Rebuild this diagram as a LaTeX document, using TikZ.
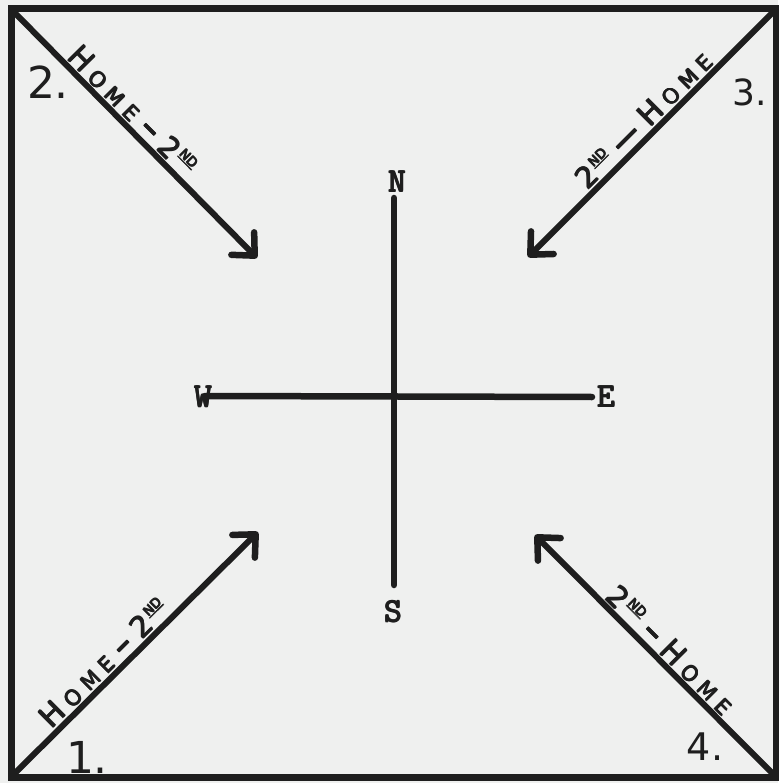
\documentclass[tikz,border=0pt]{standalone}
\usepackage{fontspec}
\setmainfont{DejaVu Sans}
\usetikzlibrary{arrows.meta}
\definecolor{ink}{RGB}{30,30,30}
\definecolor{paper}{RGB}{239,240,239}
% overprint a text a few times with a small offset to make its strokes heavier
\newcommand{\heavy}[2][1pt]{\makebox[0pt][l]{#2}\makebox[0pt][l]{\kern#1#2}\makebox[0pt][l]{\raisebox{#1}{#2}}\makebox[0pt][l]{\kern#1\raisebox{#1}{#2}}\phantom{#2}\kern#1\relax}
\newcommand{\HOMEtxt}{{\fontsize{30}{30}\selectfont H}\hspace{7pt}{\fontsize{21}{21}\selectfont O\hspace{7pt}M\hspace{7pt}E}}
\newcommand{\SECONDtxt}{{\fontsize{29}{29}\selectfont 2}\hspace{2pt}\raisebox{12pt}{\fontsize{13}{13}\selectfont\underline{ND}}}
\newcommand{\shortdash}{\hspace{11pt}\rule[8pt]{14pt}{3pt}\hspace{11pt}}
\newcommand{\longdash}{\hspace{11pt}\rule[8pt]{26pt}{3pt}\hspace{11pt}}
\begin{document}
\begin{tikzpicture}[x=1pt,y=-1pt,
  inkline/.style={draw=ink,line width=6.5pt},
  framebox/.style={draw=ink,line width=7pt},
  arrowline/.style={draw=ink,line width=6pt,line cap=round,
    -{Straight Barb[length=17pt,width=32pt,line width=6.5pt,round]}},
  dirlbl/.style={text=ink,font=\ttfamily\fontsize{34}{34}\selectfont,inner sep=0pt},
  numlbl/.style={text=ink,inner sep=0pt},
  arrowlbl/.style={text=ink,sloped,above,inner sep=1pt}]
\useasboundingbox (0,0) rectangle (778,783);
\fill[paper] (0,0) rectangle (778,783);
% frame corners
\coordinate (TL) at (11,9);
\coordinate (TR) at (776,9);
\coordinate (BL) at (11,777);
\coordinate (BR) at (776,777);
\draw[framebox] (TL) rectangle (BR);
% compass
\node[dirlbl] (N) at (397,182) {\heavy[1.1pt]{N}};
\node[dirlbl] (S) at (393,612) {\heavy[1.1pt]{S}};
\node[dirlbl] (W) at (203,397) {\heavy[1.1pt]{W}};
\node[dirlbl] (E) at (606,397) {\heavy[1.1pt]{E}};
\coordinate (nEnd) at (394,198);
\coordinate (sEnd) at (394,585);
\coordinate (wEnd) at (205,396);
\coordinate (eEnd) at (592,397);
\draw[inkline,line cap=round] (nEnd) -- (sEnd);
\draw[inkline,line cap=round] (wEnd) -- (eEnd);
% arrow tips
\coordinate (T2) at (257,258);
\coordinate (T3) at (528,257);
\coordinate (T1) at (258,532);
\coordinate (T4) at (535,535);
\draw[arrowline] (TL) -- node[arrowlbl,pos=0.45] {\heavy[0.7pt]{\HOMEtxt\shortdash\SECONDtxt}} (T2);
\draw[arrowline] (TR) -- node[arrowlbl,pos=0.49] {\heavy[0.7pt]{\SECONDtxt\longdash\HOMEtxt}} (T3);
\draw[arrowline] (BL) -- node[arrowlbl,pos=0.42] {\heavy[0.7pt]{\HOMEtxt\shortdash\SECONDtxt}} (T1);
\draw[arrowline] (BR) -- node[arrowlbl,pos=0.48] {\heavy[0.7pt]{\SECONDtxt\shortdash\HOMEtxt}} (T4);
% corner numbers
\node[numlbl,font=\fontsize{44}{44}\selectfont] (n2) at (48,82) {2.};
\node[numlbl,font=\fontsize{36}{36}\selectfont] (n3) at (750,92) {3.};
\node[numlbl,font=\fontsize{44}{44}\selectfont] (n1) at (87,757) {1.};
\node[numlbl,font=\fontsize{38}{38}\selectfont] (n4) at (705,747) {4.};
\end{tikzpicture}
\end{document}
